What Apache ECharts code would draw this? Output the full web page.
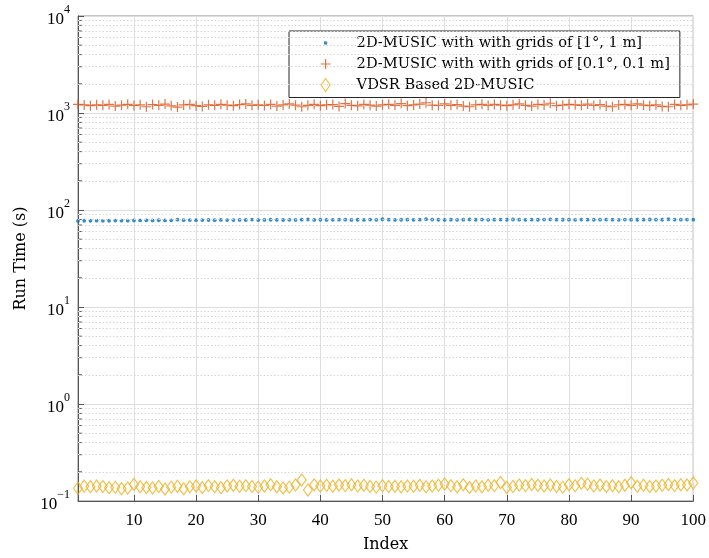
<!DOCTYPE html>
<html><head><meta charset="utf-8">
<script src="https://cdn.jsdelivr.net/npm/echarts@6/dist/echarts.min.js"></script>
<style>html,body{margin:0;padding:0;background:#fff}#c{width:709px;height:558px}</style>
</head><body><div id="c"></div>
<script>
const xTicks = [10,20,30,40,50,60,70,80,90,100];
const yTicks = [0.1,1,10,100,1000,10000];
const seriesNames = ['2D-MUSIC with with grids of [1°, 1 m]','2D-MUSIC with with grids of [0.1°, 0.1 m]','VDSR Based 2D-MUSIC'];
const coarse = [77.2,77.5,77.3,77.6,77.4,77.5,77.8,77.6,77.7,77.9,
78.0,78.2,78.1,78.4,78.0,78.3,79.5,78.6,78.8,78.5,
78.7,78.9,78.6,79.0,78.8,78.7,79.1,78.9,79.6,78.8,
79.0,79.3,79.1,78.9,79.2,79.0,79.4,79.8,79.1,79.3,
79.0,79.2,79.4,79.5,79.1,79.3,79.0,79.6,79.2,80.3,
79.4,79.1,79.3,79.5,79.2,79.4,80.4,79.6,79.3,79.1,
79.4,79.2,79.5,80.0,79.3,79.6,79.2,79.4,79.6,79.3,
79.8,79.4,79.2,79.5,79.3,79.6,80.2,79.4,79.3,79.5,
79.2,79.6,79.4,79.3,79.5,79.7,79.4,79.2,79.6,79.4,
79.3,79.5,79.8,79.4,79.3,80.3,79.5,79.4,79.6,79.5];
const fine = [1230,1210,1190,1215,1200,1225,1180,1205,1230,1195,
1215,1160,1220,1200,1235,1185,1150,1210,1225,1190,
1170,1215,1200,1230,1205,1190,1220,1240,1200,1215,
1195,1225,1180,1210,1240,1205,1160,1200,1230,1190,
1215,1220,1170,1250,1200,1185,1225,1205,1180,1215,
1230,1200,1250,1190,1210,1235,1275,1205,1195,1240,
1200,1220,1180,1160,1210,1230,1195,1225,1205,1190,
1215,1240,1200,1180,1225,1210,1260,1190,1205,1230,
1215,1200,1235,1195,1220,1180,1160,1210,1225,1200,
1240,1205,1190,1215,1170,1160,1225,1200,1215,1235];
const vdsr = [0.135,0.142,0.140,0.143,0.141,0.137,0.139,0.134,0.136,0.148,
0.140,0.138,0.136,0.141,0.133,0.139,0.142,0.134,0.140,0.143,
0.138,0.144,0.140,0.137,0.143,0.145,0.142,0.144,0.141,0.139,
0.143,0.147,0.140,0.136,0.139,0.146,0.165,0.130,0.147,0.143,
0.145,0.142,0.146,0.144,0.147,0.143,0.145,0.141,0.139,0.144,
0.141,0.142,0.140,0.143,0.142,0.145,0.140,0.143,0.145,0.150,
0.144,0.140,0.147,0.138,0.143,0.140,0.145,0.144,0.155,0.138,
0.141,0.146,0.144,0.148,0.145,0.143,0.146,0.141,0.139,0.147,
0.144,0.152,0.149,0.143,0.146,0.141,0.144,0.140,0.145,0.154,
0.142,0.145,0.141,0.143,0.145,0.148,0.144,0.147,0.146,0.153];

const FONT = 'Liberation Serif';
const TFONT = 'DejaVu Serif';
const C1 = '#0072BD', C2 = '#D95319', C3 = '#EDB120';
const idx = coarse.map((_, i) => i + 1);
const pair = arr => arr.map((v, i) => [idx[i], v]);
const minorVals = [];
for (let k = -1; k <= 3; k++) for (let m = 2; m <= 9; m++) minorVals.push(+(m * Math.pow(10, k)).toPrecision(3));

function yLabel(v) {
  const e = Math.round(Math.log10(v));
  const s = String(e).replace('-', '−');
  return '{b|10}{s|' + s + '}';
}

const chart = echarts.init(document.getElementById('c'), null, {renderer: 'canvas'});
chart.setOption({
  animation: false,
  backgroundColor: '#fff',
  grid: {left: 78, right: 15, top: 16, bottom: 55, show: true, borderColor: '#888', borderWidth: 1, backgroundColor: '#fff'},
  legend: {
    orient: 'vertical', left: 289, top: 31,
    padding: [3.5, 10, 4, 23], itemGap: 4, itemWidth: 26, itemHeight: 14,
    borderColor: '#262626', borderWidth: 1, backgroundColor: '#fff',
    textStyle: {fontFamily: TFONT, fontSize: 14.6, color: '#000', lineHeight: 17, padding: [0, 0, 0, 13]},
    data: [
      {name: seriesNames[0], icon: 'path://M0,0M26,14M11.4,5.4H14.6V8.6H11.4Z', itemStyle: {color: C1}},
      {name: seriesNames[1], icon: 'path://M0,0M26,14M8,6.4H18V7.6H8ZM12.4,2H13.6V12H12.4Z', itemStyle: {color: C2}},
      {name: seriesNames[2], icon: 'path://M0,0M26,14M13,0.5L17.5,7L13,13.5L8.5,7Z', itemStyle: {color: 'rgba(0,0,0,0)', borderColor: C3, borderWidth: 1.2}}
    ]
  },
  xAxis: {
    type: 'value', min: 1, max: 100,
    name: 'Index', nameLocation: 'middle', nameGap: 36,
    nameTextStyle: {fontFamily: TFONT, fontSize: 16, color: '#000'},
    axisLine: {lineStyle: {color: '#555', width: 1}},
    axisTick: {inside: true, length: 6, lineStyle: {color: '#555'}, customValues: xTicks},
    axisLabel: {fontFamily: FONT, fontSize: 17, color: '#000', margin: 11, customValues: xTicks},
    splitLine: {show: true, lineStyle: {color: '#dedede', width: 1}}
  },
  yAxis: {
    type: 'log', logBase: 10, min: 0.1, max: 10000, interval: 1,
    name: 'Run Time (s)', nameLocation: 'middle', nameGap: 43,
    nameTextStyle: {fontFamily: TFONT, fontSize: 16, color: '#000'},
    axisLine: {show: true, lineStyle: {color: '#555', width: 1}},
    axisTick: {inside: true, length: 6, lineStyle: {color: '#555'}},
    axisLabel: {
      margin: 8, formatter: yLabel,
      rich: {
        b: {fontFamily: FONT, fontSize: 17, color: '#000', lineHeight: 24, verticalAlign: 'bottom'},
        s: {fontFamily: FONT, fontSize: 12, color: '#000', lineHeight: 12, verticalAlign: 'top'}
      }
    },
    splitLine: {show: true, lineStyle: {color: '#dedede', width: 1}}
  },
  series: [
    {
      name: 'minorTicks', type: 'custom', silent: true, z: 1,
      data: minorVals.map(v => [1, v]), encode: {x: 0, y: 1},
      renderItem: (params, api) => {
        const p = api.coord([api.value(0), api.value(1)]);
        return {type: 'line', shape: {x1: p[0], y1: p[1], x2: p[0] + 4, y2: p[1]}, style: {stroke: '#555', lineWidth: 1}};
      },
      markLine: {
        silent: true, symbol: 'none', label: {show: false},
        lineStyle: {color: '#d6d6d6', type: [1.5, 2], width: 1},
        data: minorVals.map(v => ({yAxis: v}))
      }
    },
    {
      name: seriesNames[0], type: 'scatter', data: pair(coarse), z: 3,
      symbol: 'circle', symbolSize: 3.8, itemStyle: {color: C1}
    },
    {
      name: seriesNames[1], type: 'scatter', data: pair(fine), z: 3,
      symbol: 'path://M0,4.4H10V5.6H0ZM4.4,0H5.6V10H4.4Z', symbolSize: 10, itemStyle: {color: C2}
    },
    {
      name: seriesNames[2], type: 'scatter', data: pair(vdsr), z: 3,
      symbol: 'diamond', symbolSize: [9, 12],
      itemStyle: {color: 'rgba(0,0,0,0)', borderColor: C3, borderWidth: 1.2}
    }
  ]
});
</script></body></html>
